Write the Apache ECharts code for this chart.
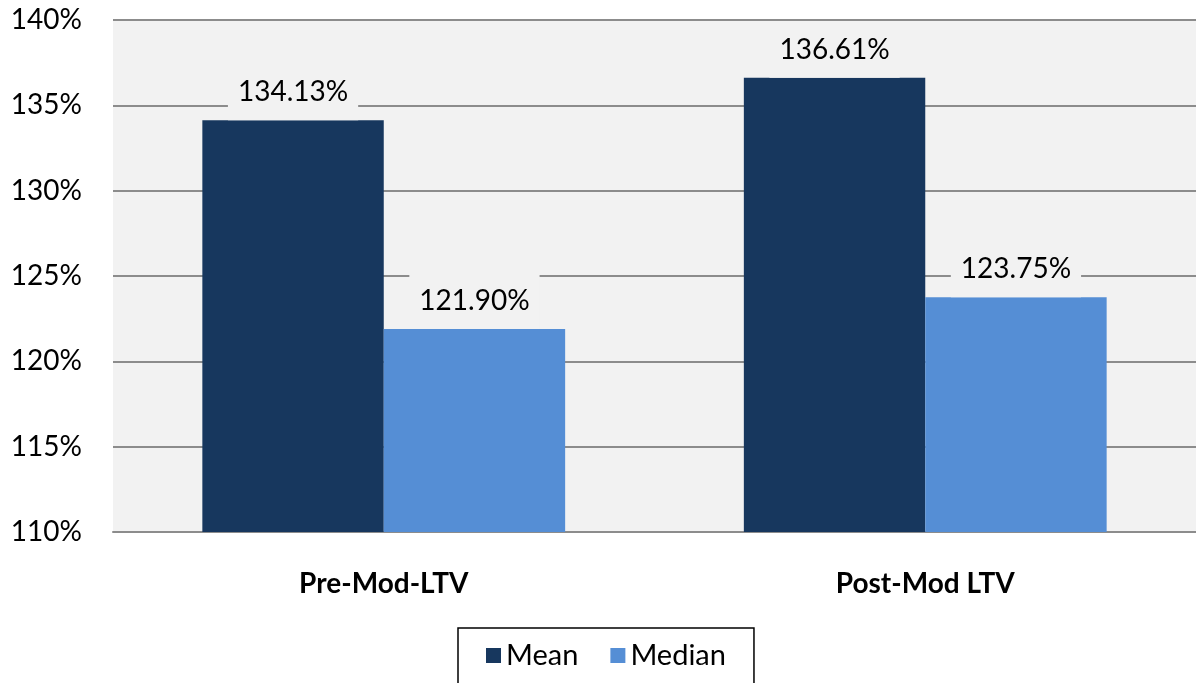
<!DOCTYPE html>
<html>
<head>
<meta charset="utf-8">
<script src="https://cdn.jsdelivr.net/npm/echarts@6/dist/echarts.min.js"></script>
<style>
html, body { margin: 0; padding: 0; background: #fff; }
#chart { width: 1196px; height: 683px; }
</style>
</head>
<body>
<div id="chart"></div>
<script>
var categories = ['Pre-Mod-LTV', 'Post-Mod LTV'];
var meanValues = [134.13, 136.61];
var medianValues = [121.90, 123.75];
var yTicks = { min: 110, max: 140, interval: 5 };

var font = 'Lato, "Open Sans", sans-serif';

function barLabel() {
	return {
		show: true,
		position: 'top',
		distance: 0,
		color: '#000',
		fontFamily: font,
		fontSize: 28,
		backgroundColor: '#f2f2f2',
		padding: [12, 10, 14, 10],
		formatter: function(p) {
			return p.value.toFixed(2) + '%';
		}
	};
}

var myChart = echarts.init(document.getElementById('chart'));

var option = {
	animation: false,
	backgroundColor: '#fff',
	grid: {
		left: 113,
		right: 0,
		top: 20,
		bottom: 151,
		show: true,
		backgroundColor: '#f2f2f2',
		borderWidth: 0
	},
	legend: {
		top: 628,
		left: 458,
		orient: 'horizontal',
		itemWidth: 15,
		itemHeight: 15,
		itemGap: 32,
		icon: 'rect',
		borderColor: '#000',
		borderWidth: 1.5,
		padding: [13, 28, 60, 28],
		textStyle: {
			fontFamily: font,
			fontSize: 29,
			color: '#000'
		},
		data: ['Mean', 'Median']
	},
	xAxis: {
		type: 'category',
		data: categories,
		axisLine: { show: true, lineStyle: { color: '#8c8c8c', width: 2 } },
		axisTick: { show: false },
		axisLabel: {
			margin: 38,
			fontFamily: font,
			fontSize: 28,
			fontWeight: 'bold',
			color: '#000'
		}
	},
	yAxis: {
		type: 'value',
		min: yTicks.min,
		max: yTicks.max,
		interval: yTicks.interval,
		axisLine: { show: false },
		axisTick: { show: false },
		splitLine: { lineStyle: { color: '#8c8c8c', width: 2 } },
		axisLabel: {
			margin: 31,
			fontFamily: font,
			fontSize: 28,
			color: '#000',
			formatter: '{value}%'
		}
	},
	series: [{
			name: 'Mean',
			type: 'bar',
			barGap: '0%',
			barCategoryGap: '33%',
			itemStyle: { color: '#17375e' },
			label: barLabel(),
			data: meanValues
		},
		{
			name: 'Median',
			type: 'bar',
			itemStyle: { color: '#558ed5' },
			label: barLabel(),
			data: medianValues
		}
	]
};
myChart.setOption(option);
</script>
</body>
</html>
